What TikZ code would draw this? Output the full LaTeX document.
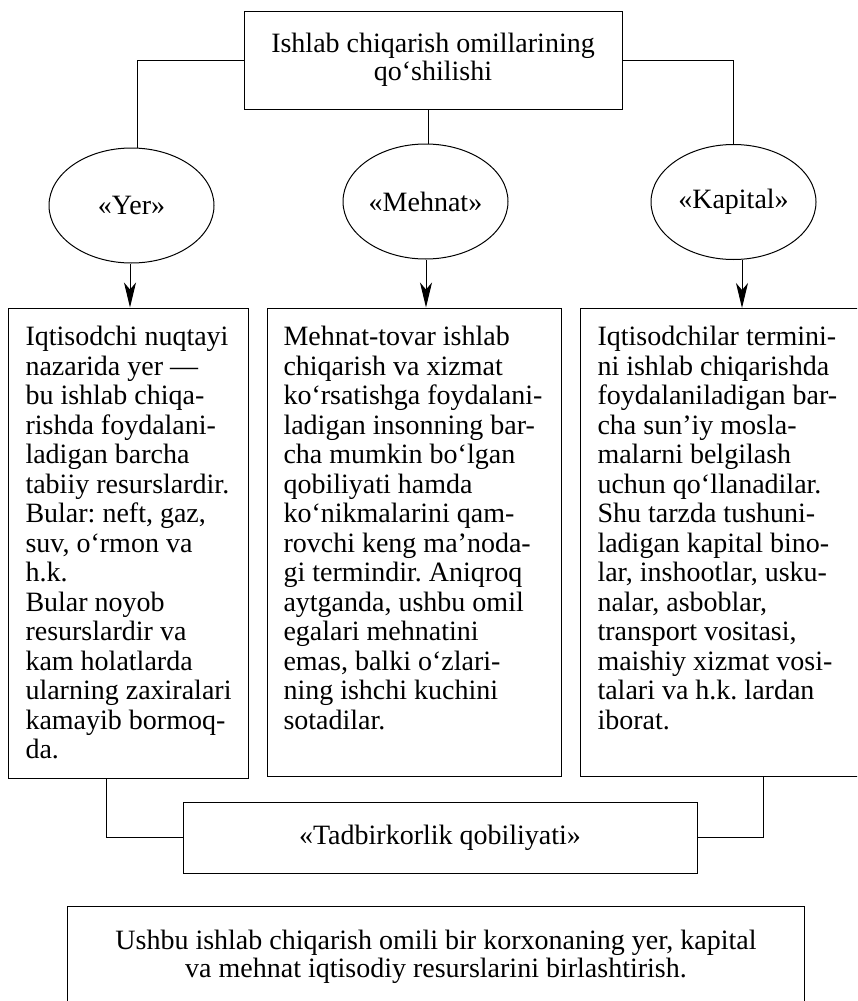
\documentclass[tikz,border=0pt]{standalone}
\usepackage{fontspec}
\setmainfont{Liberation Serif}
\usetikzlibrary{shapes.geometric,arrows.meta,calc}
\frenchspacing
\begin{document}
\begin{tikzpicture}[x=1pt,y=-1pt, line width=1pt,
  txt/.style={font=\fontsize{28}{29.5}\selectfont},
  box/.style={draw, rectangle, inner sep=0pt},
  oval/.style={draw, ellipse, minimum width=165pt, minimum height=115pt, inner sep=0pt, txt},
  body/.style={anchor=north west, align=left, inner sep=0pt, txt},
  arr/.style={-{Stealth[length=25pt,width=12pt,inset=7pt]}}]
\useasboundingbox (0,0) rectangle (857,1001);
\clip (0,0) rectangle (857,1001);

% top box
\node[box, minimum width=378pt, minimum height=98pt, align=center,
      font=\fontsize{28}{28.5}\selectfont] (top) at (433,60)
  {Ishlab chiqarish omillarining\\qo‘shilishi};

% ellipses
\node[oval] (yer) at (131.5,205.5) {«Yer»};
\node[oval] (meh) at (425.5,201.5) {«Mehnat»};
\node[oval] (kap) at (733.5,202) {«Kapital»};

% body boxes
\node[box, minimum width=240pt, minimum height=470pt] (b1) at (128,543) {};
\node[box, minimum width=294pt, minimum height=468pt] (b2) at (414,542) {};
\node[box, minimum width=290pt, minimum height=468pt, anchor=north west] (b3) at (580,308) {};

\node[body] (t1) at (25,326) {Iqtisodchi nuqtayi\\
nazarida yer —\\
bu ishlab chiqa-\\
rishda foydalani-\\
ladigan barcha\\
tabiiy resurslardir.\\
Bular: neft, gaz,\\
suv, o‘rmon va\\
h.k.\\
Bular noyob\\
resurslardir va\\
kam holatlarda\\
ularning zaxiralari\\
kamayib bormoq-\\
da.};

\node[body] (t2) at (283,326) {Mehnat-tovar ishlab\\
chiqarish va xizmat\\
ko‘rsatishga foydalani-\\
ladigan insonning bar-\\
cha mumkin bo‘lgan\\
qobiliyati hamda\\
ko‘nikmalarini qam-\\
rovchi keng ma’noda-\\
gi termindir. Aniqroq\\
aytganda, ushbu omil\\
egalari mehnatini\\
emas, balki o‘zlari-\\
ning ishchi kuchini\\
sotadilar.};

\node[body] (t3) at (597,326) {Iqtisodchilar termini-\\
ni ishlab chiqarishda\\
foydalaniladigan bar-\\
cha sun’iy mosla-\\
malarni belgilash\\
uchun qo‘llanadilar.\\
Shu tarzda tushuni-\\
ladigan kapital bino-\\
lar, inshootlar, usku-\\
nalar, asboblar,\\
transport vositasi,\\
maishiy xizmat vosi-\\
talari va h.k. lardan\\
iborat.};

% entrepreneurship box
\node[box, minimum width=514pt, minimum height=71pt, txt] (tb) at (440,837.5)
  {«Tadbirkorlik qobiliyati»};

% bottom box
\node[box, minimum width=737pt, minimum height=130pt] (bb) at (435.5,971) {};
\node[align=center, inner sep=0pt, font=\fontsize{28}{28.5}\selectfont] (bbt) at (436,957)
  {Ushbu ishlab chiqarish omili bir korxonaning yer, kapital\\
   va mehnat iqtisodiy resurslarini birlashtirish.};

% connectors top -> ellipses
\draw (top.west) -| ([xshift=5.5pt]yer.north);
\draw (top.east) -| (kap.north);
\draw ([xshift=2.5pt]meh.north) coordinate (m1);
\draw (m1 |- top.south) -- (m1);

% arrows ellipses -> boxes
\draw ([xshift=-1.5pt]yer.south) coordinate (a1);
\draw[arr] (a1) -- (a1 |- b1.north);
\draw ([xshift=0.5pt]meh.south) coordinate (a2);
\draw[arr] (a2) -- (a2 |- b2.north);
\draw ([xshift=8.5pt]kap.south) coordinate (a3);
\draw[arr] (a3) -- (a3 |- b3.north);

% boxes -> entrepreneurship
\draw (tb.west) -| ([xshift=-22pt]b1.south);
\draw (tb.east) -| ([xshift=183pt]b3.south west);
\end{tikzpicture}
\end{document}
